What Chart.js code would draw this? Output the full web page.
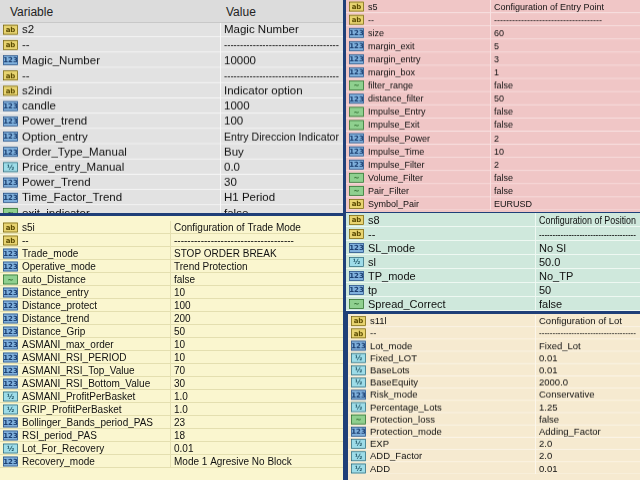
<!DOCTYPE html>
<html>
<head>
<meta charset="utf-8">
<script src="https://cdn.jsdelivr.net/npm/chart.js@4"></script>
<style>
body { margin:0; width:640px; height:480px; overflow:hidden; background:#1f3f78; font-family:"Liberation Sans", Arial, sans-serif; }
.panel { position:absolute; overflow:hidden; }
.panel canvas { position:absolute; left:0; }
#hdr { position:absolute; left:0; top:0; width:343px; height:22px; background:#dcdcdc; font-size:12px; color:#222; border-bottom:1px solid #c8c8c8; }
#hdr span { position:absolute; top:5px; }
</style>
</head>
<body>
<script>
// panel A (top left)
var a_names = ['s2','--','Magic_Number','--','s2indi','candle','Power_trend','Option_entry','Order_Type_Manual','Price_entry_Manual','Power_Trend','Time_Factor_Trend','exit_indicator'];
var a_values = ['Magic Number','------------------------------------','10000','------------------------------------','Indicator option','1000','100','Entry Direccion Indicator','Buy','0.0','30','H1 Period','false'];
var a_types = ['ab','ab','i','ab','ab','i','i','i','i','d','i','i','b'];

// panel B (top right)
var b_names = ['s5','--','size','margin_exit','margin_entry','margin_box','filter_range','distance_filter','Impulse_Entry','Impulse_Exit','Impulse_Power','Impulse_Time','Impulse_Filter','Volume_Filter','Pair_Filter','Symbol_Pair'];
var b_values = ['Configuration of Entry Point','------------------------------------','60','5','3','1','false','50','false','false','2','10','2','false','false','EURUSD'];
var b_types = ['ab','ab','i','i','i','i','b','i','b','b','i','i','i','b','b','ab'];

// panel C (bottom left)
var c_names = ['s5i','--','Trade_mode','Operative_mode','auto_Distance','Distance_entry','Distance_protect','Distance_trend','Distance_Grip','ASMANI_max_order','ASMANI_RSI_PERIOD','ASMANI_RSI_Top_Value','ASMANI_RSI_Bottom_Value','ASMANI_ProfitPerBasket','GRIP_ProfitPerBasket','Bollinger_Bands_period_PAS','RSI_period_PAS','Lot_For_Recovery','Recovery_mode'];
var c_values = ['Configuration of Trade Mode','------------------------------------','STOP ORDER BREAK','Trend Protection','false','10','100','200','50','10','10','70','30','1.0','1.0','23','18','0.01','Mode 1 Agresive No Block'];
var c_types = ['ab','ab','i','i','b','i','i','i','i','i','i','i','i','d','d','i','i','d','i'];

// panel D (middle right)
var d_names = ['s8','--','SL_mode','sl','TP_mode','tp','Spread_Correct'];
var d_values = ['Configuration of Position','------------------------------------','No Sl','50.0','No_TP','50','false'];
var d_types = ['ab','ab','i','d','i','i','b'];

// panel E (bottom right)
var e_names = ['s11l','--','Lot_mode','Fixed_LOT','BaseLots','BaseEquity','Risk_mode','Percentage_Lots','Protection_loss','Protection_mode','EXP','ADD_Factor','ADD'];
var e_values = ['Configuration of Lot','------------------------------------','Fixed_Lot','0.01','0.01','2000.0','Conservative','1.25','false','Adding_Factor','2.0','2.0','0.01'];
var e_types = ['ab','ab','i','d','d','d','i','d','b','i','d','d','d'];

var icon_cols = { ab: ['#e8d470','#5a4a00','ab'], i: ['#7fb0dc','#1c3f70','123'], d: ['#9ddce8','#1c5060','½'], b: ['#8fd08f','#1d5a1d','~'] };

function desenhar_icone(ctx, x, y, tipo) {
    var c = icon_cols[tipo];
    ctx.fillStyle = c[0];
    ctx.fillRect(x, y - 5, 15, 10);
    ctx.strokeStyle = c[1];
    ctx.lineWidth = 0.6;
    ctx.strokeRect(x + 0.5, y - 4.5, 14, 9);
    ctx.fillStyle = c[1];
    ctx.font = 'bold 7px "DejaVu Sans"';
    ctx.textAlign = 'center';
    ctx.fillText(c[2], x + 7.5, y + 0.5);
    ctx.textAlign = 'left';
}

var tabela_plugin = {
    id: 'tabela',
    afterDraw: function (chart) {
        var o = chart.options.plugins.tabela;
        var ctx = chart.ctx;
        var sy = chart.scales.y;
        var w = chart.width;
        var step = chart.height / o.names.length;
        ctx.save();
        ctx.textBaseline = 'middle';
        for (var i = 0; i < o.names.length; i++) {
            var y = sy.getPixelForValue(i);
            ctx.fillStyle = o.bg;
            ctx.fillRect(0, y - step / 2, w, step);
            ctx.fillStyle = o.line;
            ctx.fillRect(0, y + step / 2 - 1, w, 1);
            desenhar_icone(ctx, 3, y, o.types[i]);
            ctx.fillStyle = '#111';
            ctx.font = o.font + 'px "Liberation Sans"';
            ctx.fillText(o.names[i], 22, y + 0.5);
            ctx.fillText(o.values[i], o.split + 4, y + 0.5, w - o.split - 8);
        }
        ctx.fillStyle = o.line;
        ctx.fillRect(o.split, 0, 1, chart.height);
        ctx.restore();
    }
};

function criar_painel(id, x, top, w, h, canvasTop, rowStep, names, values, types, split, font, bg, line) {
    var div = document.createElement('div');
    div.className = 'panel';
    div.style.cssText = 'left:' + x + 'px;top:' + top + 'px;width:' + w + 'px;height:' + h + 'px;background:' + bg;
    var ch = names.length * rowStep;
    var cv = document.createElement('canvas');
    cv.id = id;
    document.body.appendChild(div);
    var wrap = document.createElement('div');
    wrap.style.cssText = 'position:absolute;left:0;top:' + canvasTop + 'px;width:' + w + 'px;height:' + ch + 'px';
    div.appendChild(wrap);
    wrap.appendChild(cv);
    new Chart(cv, {
        type: 'bar',
        data: { labels: names, datasets: [{ data: names.map(function () { return 0; }) }] },
        options: {
            indexAxis: 'y',
            responsive: true,
            maintainAspectRatio: false,
            animation: false,
            layout: { padding: 0 },
            scales: { x: { display: false }, y: { display: false, offset: true } },
            plugins: {
                legend: { display: false },
                tooltip: { enabled: false },
                tabela: { names: names, values: values, types: types, split: split, font: font, bg: bg, line: line }
            }
        },
        plugins: [tabela_plugin]
    });
}

criar_painel('pA', 0, 22, 343, 191, 0, 15.2, a_names, a_values, a_types, 220, 11.5, '#e2e2e2', '#f8f8f8');
criar_painel('pB', 346, 0, 294, 212, 0, 13.1, b_names, b_values, b_types, 144, 9, '#f0c6c6', '#f8e2e2');
criar_painel('pC', 0, 216, 343, 264, 5, 13.0, c_names, c_values, c_types, 170, 10, '#faf6cf', '#e4dfb0');
criar_painel('pD', 346, 213, 294, 98, 0, 14.0, d_names, d_values, d_types, 189, 11, '#cfe8dc', '#eef8f2');
criar_painel('pE', 348, 314, 292, 166, 1, 12.2, e_names, e_values, e_types, 187, 9.5, '#f6ead0', '#fcf6ea');
</script>
<div id="hdr"><span style="left:10px">Variable</span><span style="left:226px">Value</span></div>
</body>
</html>
